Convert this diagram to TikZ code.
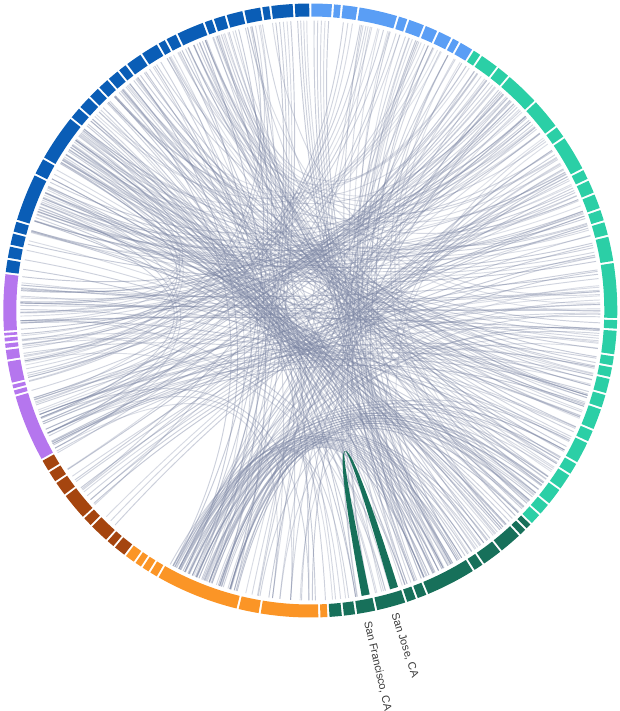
\documentclass[tikz,border=0pt]{standalone}
\usepackage{fontspec}
\setmainfont{Liberation Sans}
\definecolor{cDB}{HTML}{0A5DB6}
\definecolor{cLB}{HTML}{5A9EF5}
\definecolor{cTE}{HTML}{2BCFA6}
\definecolor{cDG}{HTML}{17705A}
\definecolor{cOR}{HTML}{FB9526}
\definecolor{cBR}{HTML}{A5450F}
\definecolor{cPU}{HTML}{B576EE}
\definecolor{cCH}{HTML}{7A84A2}
\definecolor{cTX}{HTML}{3A3A3A}
\tikzset{
  chordline/.style={draw=cCH, line width=0.95pt},
  lbl/.style={text=cTX, inner sep=0pt, font=\fontsize{11pt}{13pt}\selectfont},
}
\newcommand{\ringseg}[3]{%
  \pgfmathsetmacro{\pa}{90-(#2)-0.2}%
  \pgfmathsetmacro{\pb}{90-(#3)+0.2}%
  \fill[#1] (\pa:294pt) arc[start angle=\pa, end angle=\pb, radius=294pt]
    -- (\pb:307pt) arc[start angle=\pb, end angle=\pa, radius=307pt] -- cycle;}
\newcommand{\chordbundle}[6]{%
  \foreach \ci in {1,...,#5} {
    \pgfmathsetmacro{\ta}{90-((#1)+((#2)-(#1))*(\ci-0.5)/#5)}
    \pgfmathsetmacro{\tb}{90-((#4)-((#4)-(#3))*(\ci-0.5)/#5)}
    \pgfmathsetmacro{\op}{(#6)*(0.75+0.35*mod(\ci*3,4)/3)}
    \coordinate (ca) at (\ta:290pt);
    \coordinate (cb) at (\tb:290pt);
    \coordinate (ka) at (\ta:96.67pt);
    \coordinate (kb) at (\tb:96.67pt);
    \draw[chordline, opacity=\op] (ca) .. controls (ka) and (kb) .. (cb);
  }}
\begin{document}
\begin{tikzpicture}[x=1pt,y=1pt]
\useasboundingbox (-310.3,-400.5) rectangle (309.7,310.5);
% ---------- chords ----------
\foreach \A/\B/\C/\D/\N/\O in {
 352.8/356.5/195/205/5/.4, 357.2/359.6/150/160/4/.38, 345/350.5/200/209/4/.38,
 341.8/343.8/130/140/3/.35, 340/341.3/100/110/2/.32, 334.5/339.4/45/60/4/.32,
 334.5/339.4/120/135/4/.35, 347.6/350.6/250/262/3/.32,
 0.4/4/150/160/5/.38, 6.1/8.8/240/250/3/.35, 9.3/16.4/255/265/6/.35,
 9.3/16.4/150/162/4/.32, 16.8/18.4/226/234/2/.32, 18.8/21.7/162/172/4/.32,
 22.1/24.4/258/272/3/.28, 24.8/27.3/300/315/3/.25, 27.7/31.8/130/140/3/.28,
 34/37.4/235/250/4/.38, 37.8/40.1/250/258/3/.35, 40.5/46.9/260/275/7/.4,
 40.5/46.9/200/208/4/.35, 47.3/53/228/238/4/.4, 47.3/53/265/278/5/.4,
 47.3/53/284/298/4/.35, 53.4/55.5/150/160/2/.28, 55.9/62.4/195/208/6/.38,
 55.9/62.4/302/320/4/.32, 32.2/33.6/330/345/2/.28, 63/64.6/268/274/2/.28,
 65/70.5/285/295/5/.35, 70.9/75.7/300/310/4/.35, 76.1/80.7/282/294/5/.38,
 81.1/91.4/266/276/3/.38, 81.1/91.4/240/252/6/.35, 86/91/340/355/3/.28,
 91.8/98.2/300/312/5/.35, 93.8/98.2/200/208/3/.32, 98.6/105.6/315/325/6/.38,
 98.6/105.6/242/250/4/.35, 105.9/112.7/284/296/3/.42, 105.9/112.7/318/328/3/.35,
 105.9/112.7/330/340/4/.32,
 113.1/119.6/315/326/6/.38, 120/125.4/330/340/5/.35, 125.8/131.4/195/209/6/.4,
 126/133.8/340/352/4/.32, 115.5/122/180/192/3/.32,
 137.2/141.4/290/298/4/.38, 141.8/147.6/195/208/6/.4, 141.8/147.6/335/345/4/.35,
 148/157.4/300/312/9/.42, 148/157.4/194/209/9/.4, 148/157.4/15/25/5/.35,
 157.8/161.6/20/30/3/.32, 162/167.4/310/320/4/.35, 167.8/171.2/20/28/3/.32,
 171.6/176.4/200/208/3/.32, 159.9/166/258/270/3/.32,
 178.5/189.3/30/45/5/.38, 178.5/189.3/340/350/3/.35, 178.5/189.3/240/250/3/.32,
 189.7/193.5/20/30/3/.32,
 193.9/209.6/118/135/11/.42, 193.9/209.6/78/95/6/.35, 193.9/209.6/318/340/6/.38,
 193.9/209.6/52/64/4/.32,
 221.7/225.3/60/66/3/.35, 227.8/232.8/70/80/5/.4, 233.2/235.8/65/72/2/.32,
 241.1/253.7/60/72/3/.4, 241.1/253.7/34/45/5/.38, 241.1/253.7/100/110/4/.38,
 241.1/253.7/85/95/4/.35,
 256.4/260.4/40/50/3/.32, 260.8/265/110/118/3/.32, 266.2/276.8/84/96/3/.4,
 266.2/276.8/110/120/4/.38, 266.2/276.8/300/310/3/.28,
 277.2/286.8/120/130/5/.38, 287.2/296.1/130/140/6/.42, 287.2/296.1/60/75/5/.35,
 287.2/296.1/240/250/3/.32, 296.5/299.5/130/138/3/.35, 299.9/308.6/138/150/8/.42,
 299.9/308.6/100/110/5/.35, 299.9/308.6/255/265/3/.32, 309/316.2/160/172/6/.38,
 316.6/326.4/150/160/5/.38, 326.8/334/170/180/5/.38, 326.8/334/60/75/3/.32,
 316.6/322/30/45/3/.28,
 10/12/186/192/2/.3, 70/74/248/254/2/.3, 95/97/270/276/2/.3, 125/127/301/307/2/.3,
 160/162/336/342/2/.3, 290/292/106/112/2/.3, 320/322/136/142/2/.3, 29/31/205/209/1/.3}
 {\chordbundle{\A}{\B}{\C}{\D}{\N}{\O}}
% ---------- highlighted ribbon San Francisco - San Jose ----------
\fill[cDG] (-78.2:290pt) arc[start angle=-78.2, end angle=-79.8, radius=290pt]
  .. controls (-79.8:96.67pt) and (-72.4:96.67pt) .. (-72.4:290pt)
  arc[start angle=-72.4, end angle=-74.0, radius=290pt]
  .. controls (-74.0:96.67pt) and (-78.2:96.67pt) .. (-78.2:290pt) -- cycle;
% ---------- ring segments ----------
\foreach \sb [remember=\sb as \sa (initially 277.0)] in {279.7,282.2,284.7,287.0,296.3,299.7,308.8,311.3,314.0,316.4,318.8,321.3,323.2,326.6,330.2,331.9,334.2,339.7,341.5,344.0,347.4,350.8,352.5,356.9,360.0}
  {\ringseg{cDB}{\sa}{\sb}}
\foreach \sb [remember=\sb as \sa (initially 0)] in {4.25,5.9,9.05,16.6,18.6,21.9,24.6,27.5,29.15,32.0}
  {\ringseg{cLB}{\sa}{\sb}}
\foreach \sb [remember=\sb as \sa (initially 32.0)] in {33.8,37.6,40.3,47.1,53.2,55.7,62.6,64.8,67.6,70.7,73.1,75.9,80.9,91.6,93.6,98.4,100.5,102.7,105.8,108.6,112.9,115.4,119.8,122.3,125.6,129.1,131.6,134.0}
  {\ringseg{cTE}{\sa}{\sb}}
\foreach \sb [remember=\sb as \sa (initially 134.0)] in {135.4,137.0,141.6,145.7,147.85,157.6,159.7,161.8,167.6,171.4,173.9,176.6}
  {\ringseg{cDG}{\sa}{\sb}}
\foreach \sb [remember=\sb as \sa (initially 176.6)] in {178.3,189.5,193.7,209.8,211.6,213.3,214.9,217.1}
  {\ringseg{cOR}{\sa}{\sb}}
\foreach \sb [remember=\sb as \sa (initially 217.1)] in {219.7,221.5,225.5,227.6,233.0,236.0,238.4,240.9}
  {\ringseg{cBR}{\sa}{\sb}}
\foreach \sb [remember=\sb as \sa (initially 240.9)] in {253.9,255.1,256.2,260.6,262.8,264.0,265.1,266.0,277.0}
  {\ringseg{cPU}{\sa}{\sb}}
% ---------- labels ----------
\node[lbl, rotate=-72, anchor=west] (sj) at (-74.5:314pt) {San Jose, CA};
\node[lbl, rotate=-77, anchor=west] (sf) at (-79.6:316pt) {San Francisco, CA};
\end{tikzpicture}
\end{document}
